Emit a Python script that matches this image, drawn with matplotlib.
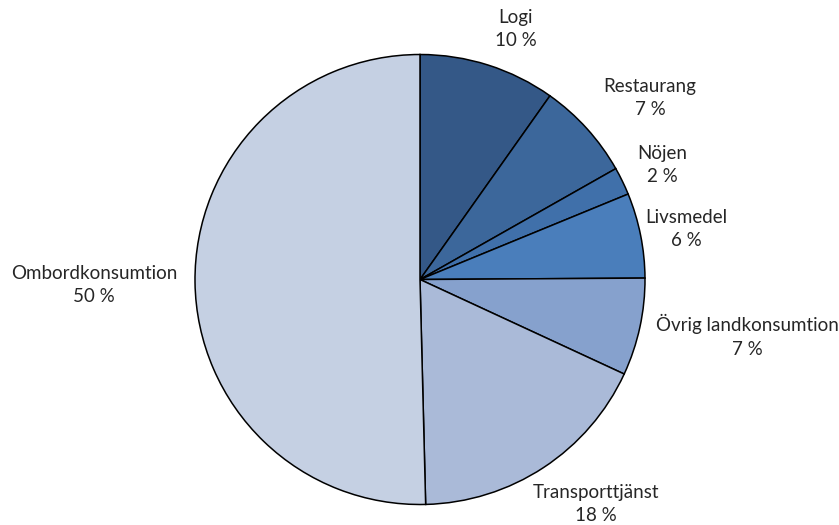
import matplotlib
matplotlib.use("Agg")
import matplotlib.pyplot as plt

categories = ["Logi", "Restaurang", "Nöjen", "Livsmedel",
              "Övrig landkonsumtion", "Transporttjänst", "Ombordkonsumtion"]
shares = [9.8, 7.0, 2.0, 6.1, 7.0, 17.7, 50.4]
colors = ["#345887", "#3C679B", "#4070AA", "#4A7EBB",
          "#86A1CD", "#AABAD8", "#C5D0E3"]

# label centres in pixels (layout only)
label_px = [(516, 29), (650, 98), (662, 165), (686, 229),
            (747, 336), (596, 504), (94, 285)]

W, H = 839, 525
cx, cy, R = 420, 279.5, 225

fig = plt.figure(figsize=(W / 100, H / 100), dpi=100)
ax = fig.add_axes([0, 0, 1, 1])
ax.pie(shares, colors=colors, startangle=90, counterclock=False, radius=1,
       wedgeprops=dict(edgecolor="black", linewidth=1.1))
ax.set_xlim(-cx / R, (W - cx) / R)
ax.set_ylim(-(H - cy) / R, cy / R)
ax.set_aspect("equal")
ax.axis("off")

for name, val, (px, py) in zip(categories, shares, label_px):
    x = (px - cx) / R
    y = (cy - py) / R
    ax.text(x, y, f"{name}\n{round(val)} %", ha="center", va="center",
            fontsize=13.5, family="Lato", color="#262626", linespacing=1.45)

fig.savefig("out.png", dpi=100)
